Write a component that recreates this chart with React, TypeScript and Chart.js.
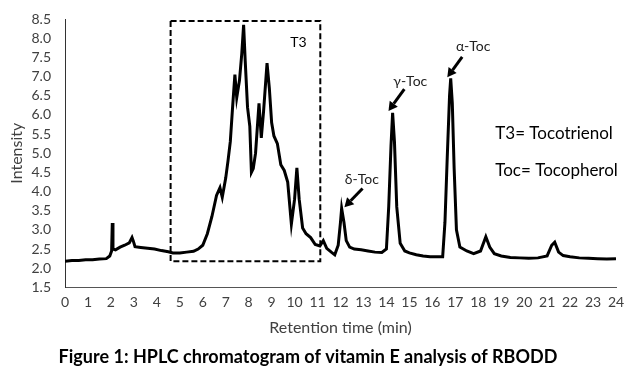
import React, { useEffect, useRef } from "react";
import { Chart, registerables } from "chart.js";

Chart.register(...registerables);

// Retention time (min) and detector intensity
const retentionTime = [
  0, 0.3, 0.6, 0.9, 1.2, 1.5, 1.8, 1.95, 2.03, 2.06, 2.09, 2.2, 2.4, 2.6, 2.8, 2.92, 2.97, 3.05,
  3.3, 3.6, 3.9, 4.2, 4.5, 4.7, 5.0, 5.3, 5.6, 5.8, 6.0, 6.2, 6.4, 6.6, 6.75, 6.85, 7.0, 7.1,
  7.2, 7.3, 7.4, 7.48, 7.6, 7.7, 7.78, 7.85, 7.95, 8.05, 8.12, 8.2, 8.3, 8.45, 8.55, 8.65, 8.8,
  8.9, 9.0, 9.1, 9.25, 9.4, 9.55, 9.7, 9.86, 10.0, 10.1, 10.2, 10.35, 10.5, 10.7, 10.9, 11.1,
  11.25, 11.4, 11.6, 11.75, 11.9, 12.0, 12.05, 12.15, 12.25, 12.4, 12.6, 12.9, 13.2, 13.5, 13.8,
  14.0, 14.1, 14.2, 14.27, 14.35, 14.45, 14.6, 14.8, 15.0, 15.3, 15.6, 15.9, 16.2, 16.45, 16.55,
  16.65, 16.75, 16.8, 16.87, 16.95, 17.05, 17.2, 17.5, 17.8, 18.1, 18.33, 18.5, 18.7, 19.0, 19.4,
  19.8, 20.2, 20.6, 21.0, 21.2, 21.33, 21.5, 21.7, 22.0, 22.4, 22.8, 23.2, 23.6, 24.0,
];
const intensity = [
  2.18, 2.2, 2.2, 2.22, 2.22, 2.24, 2.25, 2.32, 2.45, 3.18, 2.5, 2.48, 2.55, 2.6, 2.66, 2.8, 2.72, 2.56,
  2.54, 2.52, 2.5, 2.46, 2.43, 2.4, 2.4, 2.42, 2.44, 2.5, 2.6, 2.9, 3.35, 3.9, 4.1, 3.85, 4.35, 4.8,
  5.3, 6.2, 7.05, 6.45, 6.9, 7.6, 8.35, 7.4, 6.2, 5.7, 4.5, 4.6, 5.0, 6.3, 5.4, 6.1, 7.35,
  6.7, 5.8, 5.45, 5.25, 4.7, 4.55, 4.25, 3.15, 3.8, 4.62, 3.8, 3.05, 2.9, 2.8, 2.62, 2.58,
  2.72, 2.52, 2.42, 2.35, 2.6, 3.2, 3.56, 3.2, 2.72, 2.55, 2.5, 2.48, 2.45, 2.42, 2.41,
  2.5, 3.6, 5.2, 6.05, 5.3, 3.6, 2.65, 2.45, 2.4, 2.35, 2.32, 2.3, 2.3, 2.3, 3.2,
  4.9, 6.5, 6.95, 6.3, 4.6, 3.0, 2.55, 2.45, 2.38, 2.45, 2.82, 2.55, 2.38, 2.32, 2.28,
  2.27, 2.26, 2.27, 2.32, 2.6, 2.68, 2.42, 2.33, 2.3, 2.27, 2.26, 2.25, 2.24, 2.25,
];

const xMin = 0;
const xMax = 24;
const yMin = 1.5;
const yMax = 8.5;

// Annotations (in data units)
const boxXRange = [4.6, 11.12];
const boxYRange = [2.18, 8.45];
const boxLabel = "T3";
const boxLabelPos = [10.17, 7.9];

const peakNames = ["δ-Toc", "γ-Toc", "α-Toc"];
const peakLabelX = [12.93, 15.04, 17.78];
const peakLabelY = [4.32, 6.86, 7.79];
const arrowTailX = [12.96, 14.78, 17.3];
const arrowTailY = [4.08, 6.67, 7.51];
const arrowHeadX = [12.17, 14.09, 16.65];
const arrowHeadY = [3.59, 6.1, 6.98];

const noteLines = ["T3= Tocotrienol", "Toc= Tocopherol"];
const noteX = 18.74;
const noteY = [5.52, 4.56];

const xTitle = "Retention time (min)";
const yTitle = "Intensity";
const caption = "Figure 1: HPLC chromatogram of vitamin E analysis of RBODD";

const FONT = "Lato, 'Open Sans', sans-serif";

const annotationPlugin = {
  id: "chromAnnotations",
  afterDatasetsDraw(chart: any) {
    const { ctx, scales } = chart;
    const xs = scales.x;
    const ys = scales.y;
    ctx.save();

    // dashed box around tocotrienol region
    const bx0 = xs.getPixelForValue(boxXRange[0]);
    const bx1 = xs.getPixelForValue(boxXRange[1]);
    const by0 = ys.getPixelForValue(boxYRange[1]);
    const by1 = ys.getPixelForValue(boxYRange[0]);
    ctx.strokeStyle = "#000";
    ctx.lineWidth = 2;
    ctx.setLineDash([6, 3]);
    ctx.strokeRect(bx0, by0, bx1 - bx0, by1 - by0);
    ctx.setLineDash([]);

    ctx.fillStyle = "#000";
    ctx.textAlign = "center";
    ctx.textBaseline = "middle";
    ctx.font = `14px ${FONT}`;
    ctx.fillText(boxLabel, xs.getPixelForValue(boxLabelPos[0]), ys.getPixelForValue(boxLabelPos[1]));

    // peak labels and arrows
    ctx.font = `14px ${FONT}`;
    for (let i = 0; i < peakNames.length; i++) {
      ctx.fillStyle = "#222";
      ctx.fillText(peakNames[i], xs.getPixelForValue(peakLabelX[i]), ys.getPixelForValue(peakLabelY[i]));
      const tx = xs.getPixelForValue(arrowTailX[i]);
      const ty = ys.getPixelForValue(arrowTailY[i]);
      const hx = xs.getPixelForValue(arrowHeadX[i]);
      const hy = ys.getPixelForValue(arrowHeadY[i]);
      const ang = Math.atan2(hy - ty, hx - tx);
      const headLen = 9;
      const headW = 5;
      const bx = hx - headLen * Math.cos(ang);
      const byy = hy - headLen * Math.sin(ang);
      ctx.strokeStyle = "#000";
      ctx.lineWidth = 3;
      ctx.beginPath();
      ctx.moveTo(tx, ty);
      ctx.lineTo(bx, byy);
      ctx.stroke();
      ctx.fillStyle = "#000";
      ctx.beginPath();
      ctx.moveTo(hx, hy);
      ctx.lineTo(bx + headW * Math.sin(ang), byy - headW * Math.cos(ang));
      ctx.lineTo(bx - headW * Math.sin(ang), byy + headW * Math.cos(ang));
      ctx.closePath();
      ctx.fill();
    }

    // notes
    ctx.font = `17px ${FONT}`;
    ctx.fillStyle = "#000";
    ctx.textAlign = "left";
    for (let i = 0; i < noteLines.length; i++) {
      ctx.fillText(noteLines[i], xs.getPixelForValue(noteX), ys.getPixelForValue(noteY[i]));
    }
    ctx.restore();
  },
};

export default function App() {
  const canvasRef = useRef<HTMLCanvasElement | null>(null);

  useEffect(() => {
    document.body.style.margin = "0";
    const canvas = canvasRef.current;
    if (!canvas) return;
    const data = retentionTime.map((t, i) => ({ x: t, y: intensity[i] }));
    const chart = new Chart(canvas, {
      type: "line",
      data: {
        datasets: [
          {
            data,
            borderColor: "#000",
            borderWidth: 3,
            pointRadius: 0,
            tension: 0,
            fill: false,
          },
        ],
      },
      options: {
        responsive: false,
        animation: false,
        layout: { padding: { top: 19, right: 12, left: 0, bottom: 4 } },
        plugins: {
          legend: { display: false },
          tooltip: { enabled: false },
          title: {
            display: true,
            text: caption,
            position: "bottom",
            color: "#000",
            font: { family: FONT, size: 18, weight: "bold" },
            padding: { top: 5, bottom: 6 },
          },
        },
        scales: {
          x: {
            type: "linear",
            min: xMin,
            max: xMax,
            afterFit: (s: any) => {
              s.height = 54;
              s.paddingLeft = 0;
              s.paddingRight = 0;
            },
            ticks: {
              stepSize: 1,
              color: "#404040",
              font: { family: FONT, size: 14 },
              padding: 7,
              maxRotation: 0,
              autoSkip: false,
            },
            grid: { display: false, drawTicks: false },
            border: { display: true, color: "#555", width: 1 },
            title: {
              display: true,
              text: xTitle,
              color: "#404040",
              font: { family: FONT, size: 16 },
              padding: { top: 0, bottom: 4.4 },
            },
          },
          y: {
            type: "linear",
            min: yMin,
            max: yMax,
            afterFit: (s: any) => {
              s.width = 65;
              s.paddingTop = 0;
              s.paddingBottom = 0;
            },
            ticks: {
              stepSize: 0.5,
              autoSkip: false,
              color: "#404040",
              font: { family: FONT, size: 14 },
              padding: 14,
              callback: (v: any) => Number(v).toFixed(1),
            },
            grid: { display: false, drawTicks: false },
            border: { display: true, color: "#333", width: 1 },
            title: {
              display: true,
              text: yTitle,
              color: "#404040",
              font: { family: FONT, size: 16 },
              padding: { top: 7.4, bottom: 0 },
            },
          },
        },
      },
      plugins: [annotationPlugin],
    });
    return () => chart.destroy();
  }, []);

  return (
    <div style={{ width: 628, height: 378, position: "relative", background: "#fff" }}>
      <canvas ref={canvasRef} width={628} height={378} />
    </div>
  );
}
